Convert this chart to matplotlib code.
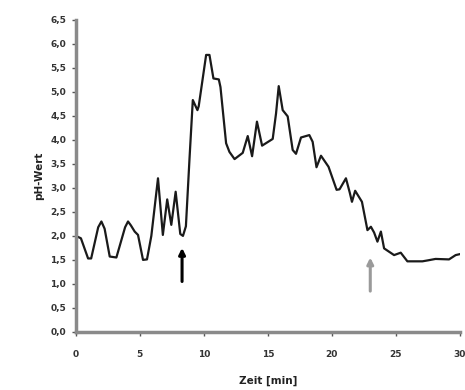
import matplotlib
matplotlib.use('Agg')
import matplotlib.pyplot as plt
from matplotlib.ticker import FuncFormatter

# Zeit [min] und pH-Wert
zeit = [0.0, 0.4, 0.96, 1.2, 1.75, 2.0, 2.25, 2.65, 3.17, 3.85, 4.08, 4.3, 4.6, 4.86,
        5.25, 5.56, 5.9, 6.42, 6.8, 7.14, 7.46, 7.8, 8.16, 8.37, 8.6, 8.88, 9.14,
        9.5, 9.6, 10.18, 10.44, 10.75, 11.17, 11.3, 11.74, 12.0, 12.4, 13.04, 13.43,
        13.77, 14.15, 14.55, 15.38, 15.64, 15.85, 16.16, 16.55, 16.94, 17.2, 17.59,
        18.24, 18.5, 18.8, 19.15, 19.74, 20.37, 20.6, 21.1, 21.4, 21.57, 21.82,
        22.35, 22.78, 23.05, 23.3, 23.56, 23.83, 24.08, 24.47, 24.86, 25.38, 25.9,
        27.07, 27.5, 28.1, 29.15, 29.67, 30.0]
ph_wert = [2.0, 1.95, 1.53, 1.53, 2.18, 2.3, 2.15, 1.57, 1.55, 2.18, 2.3, 2.22, 2.09,
           2.02, 1.5, 1.51, 2.0, 3.2, 2.02, 2.76, 2.23, 2.92, 2.04, 2.0, 2.2, 3.6,
           4.83, 4.62, 4.7, 5.77, 5.77, 5.28, 5.26, 5.1, 3.93, 3.75, 3.6, 3.73, 4.08,
           3.66, 4.38, 3.88, 4.02, 4.55, 5.12, 4.62, 4.49, 3.79, 3.71, 4.05,
           4.1, 3.96, 3.43, 3.67, 3.44, 2.96, 2.97, 3.2, 2.9, 2.71, 2.94,
           2.71, 2.12, 2.19, 2.07, 1.88, 2.09, 1.74, 1.67, 1.6, 1.65, 1.47,
           1.47, 1.49, 1.52, 1.51, 1.6, 1.62]

# Pfeile: Zeitpunkt, Anfang, Spitze, Farbe
pfeile = [(8.3, 1.05, 1.75, 'black'), (23.0, 0.85, 1.55, '#9a9a9a')]

x_ticks = [0, 5, 10, 15, 20, 25, 30]
y_ticks = [0.0, 0.5, 1.0, 1.5, 2.0, 2.5, 3.0, 3.5, 4.0, 4.5, 5.0, 5.5, 6.0, 6.5]

fig = plt.figure(figsize=(4.65, 3.9), dpi=100)
ax = fig.add_axes([0.163, 0.149, 0.826, 0.8])

ax.plot(zeit, ph_wert, color='#1a1a1a', linewidth=1.6, solid_joinstyle='round')

for t, y0, y1, farbe in pfeile:
    ax.annotate('', xy=(t, y1), xytext=(t, y0),
                arrowprops=dict(arrowstyle='-|>', color=farbe, lw=2.2,
                                mutation_scale=9, shrinkA=0, shrinkB=0))

ax.set_xlim(0, 30)
ax.set_ylim(0, 6.5)
ax.set_xticks(x_ticks)
ax.set_yticks(y_ticks)
ax.yaxis.set_major_formatter(FuncFormatter(lambda v, p: f'{v:.1f}'.replace('.', ',')))

for s in ['top', 'right']:
    ax.spines[s].set_visible(False)
for s in ['left', 'bottom']:
    ax.spines[s].set_color('#8a8a8a')
    ax.spines[s].set_linewidth(2.5)

ax.tick_params(direction='out', length=3, width=1, color='#555555',
               labelsize=6.5, labelcolor='#333333', pad=4)
ax.tick_params(axis='x', pad=10)
for lbl in ax.get_xticklabels() + ax.get_yticklabels():
    lbl.set_fontweight('bold')

ax.set_xlabel('Zeit [min]', fontsize=7.5, fontweight='bold', color='#222222', labelpad=12)
ax.set_ylabel('pH-Wert', fontsize=7.5, fontweight='bold', color='#222222', labelpad=4)

fig.savefig('out.png', dpi=100)
